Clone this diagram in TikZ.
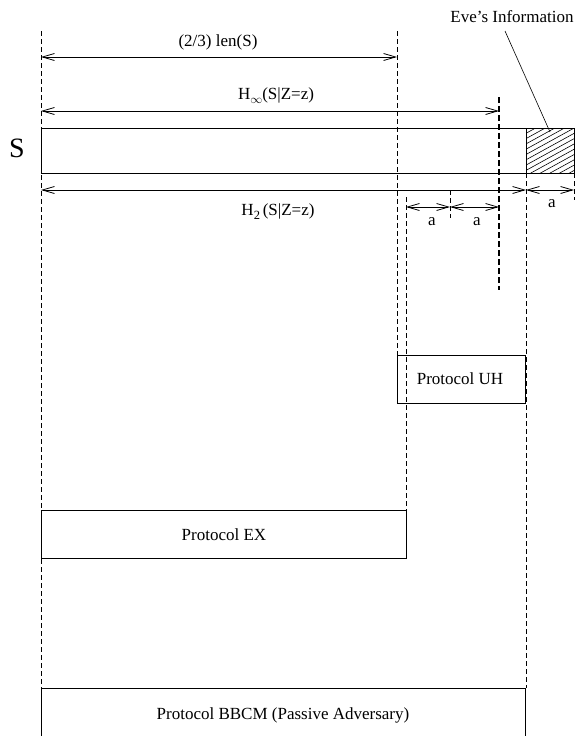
\documentclass[tikz,border=0pt]{standalone}
\usepackage{fontspec}
\setmainfont{Liberation Serif}
\usetikzlibrary{arrows.meta}
\newcommand{\lowsub}[1]{\raisebox{-4pt}{\fontsize{12.5}{13}\selectfont #1}}
\begin{document}
\begin{tikzpicture}[x=1pt,y=-1pt,
  thin line/.style={line width=0.8pt},
  guide/.style={line width=0.8pt, dash pattern=on 4.5pt off 3.5pt},
  thickguide/.style={line width=1.8pt, dash pattern=on 6pt off 3pt},
  dim/.style={line width=0.8pt, {Straight Barb[length=12pt,width=7pt]}-{Straight Barb[length=12pt,width=7pt]}},
  lbl/.style={font=\fontsize{17}{20}\selectfont, inner sep=0pt},
  boxline/.style={line width=0.9pt}]
\useasboundingbox (0,0) rectangle (577,736);
\clip (0,0) rectangle (577,736);
% coordinates
\coordinate (L0) at (41,31);
\coordinate (L1) at (41,688);
\coordinate (M0) at (397,31);
\coordinate (M1) at (397,355);
\coordinate (N0) at (406,197);
\coordinate (N1) at (406,510);
\coordinate (R0) at (526,173);
\coordinate (R1) at (526,688);
\coordinate (T0) at (499,97);
\coordinate (T1) at (499,290);
\coordinate (K0) at (450,190);
\coordinate (K1) at (450,218);
\coordinate (E0) at (574,173);
\coordinate (E1) at (574,200);
% guide lines
\draw[guide] (L0) -- (L1);
\draw[guide] (M0) -- (M1);
\draw[guide] (N0) -- (N1);
\draw[guide] (R0) -- (R1);
\draw[thickguide] (T0) -- (T1);
\draw[guide] (K0) -- (K1);
\draw[guide] (E0) -- (E1);
% S bar
\draw[thin line] (41,128) -- (574,128);
\draw[thin line] (41,173) -- (574,173);
\draw[thin line] (41,128) -- (41,173);
\draw[thin line] (526,128) rectangle (574,173);
\begin{scope}
\clip (526,128) rectangle (574,173);
\foreach \i in {-6,...,20} {
  \draw[line width=0.6pt] (526,128+\i*5.3) -- ++(60,-33);
}
\end{scope}
\node[lbl, font=\fontsize{28}{30}\selectfont] (S) at (17,148) {S};
% dimension arrows
\coordinate (a1) at (41,57);
\coordinate (a2) at (397,57);
\draw[dim] (a1) -- (a2);
\node[lbl] (twothirds) at (218,42) {(2/3) len(S)};
\coordinate (b1) at (41,111);
\coordinate (b2) at (499,111);
\draw[dim] (b1) -- (b2);
\node[lbl] (hinf) at (276,96) {H\lowsub{$\infty$}(S|Z=z)};
\coordinate (c1) at (41,190);
\coordinate (c2) at (526,190);
\draw[dim] (c1) -- (c2);
\node[lbl] (htwo) at (278,212) {H\lowsub{2}\,(S|Z=z)};
\coordinate (d1) at (526,190);
\coordinate (d2) at (574,190);
\draw[dim] (d1) -- (d2);
\node[lbl] (aR) at (552,204) {a};
\coordinate (e1) at (406,207);
\coordinate (e2) at (450,207);
\coordinate (e3) at (499,207);
\draw[dim] (e1) -- (e2);
\draw[dim] (e2) -- (e3);
\node[lbl] (aA) at (432,222) {a};
\node[lbl] (aB) at (477,222) {a};
% Eve's information
\node[lbl] (eve) at (512,17) {Eve’s Information};
\coordinate (evept) at (550,132);
\draw[line width=0.6pt] (505,31) -- (evept);
% protocol boxes
\draw[boxline] (397,355) rectangle (525,403);
\node[lbl] (uh) at (460,379) {Protocol UH};
\draw[boxline] (41,510) rectangle (406,558);
\node[lbl] (ex) at (224,535) {Protocol EX};
\draw[boxline] (41,745) -- (41,688) -- (525,688) -- (525,745);
\node[lbl] (bbcm) at (283,715) {Protocol BBCM (Passive Adversary)};
\end{tikzpicture}
\end{document}
